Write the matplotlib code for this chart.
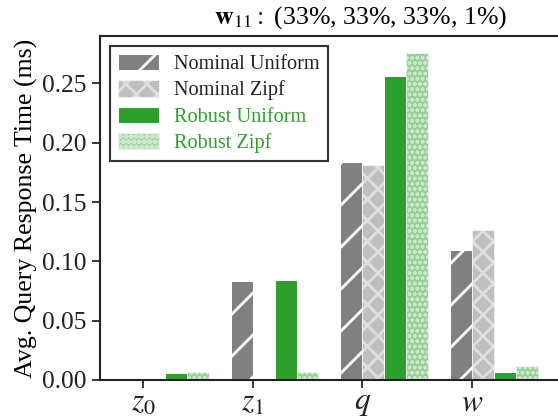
"""
plot.py — tiempo medio de respuesta por consulta, nominal vs. robusto (w11).
"""

import numpy as np
import matplotlib
matplotlib.use("Agg")
import matplotlib.pyplot as plt

# ── Datos ────────────────────────────────────────────────────────────────────
categorias = [r"$z_0$", r"$z_1$", r"$q$", r"$w$"]
nominal_uniform = [0.0005, 0.0838, 0.1838, 0.1094]
nominal_zipf = [0.0004, 0.0004, 0.1816, 0.1263]
robust_uniform = [0.0056, 0.0840, 0.2567, 0.0070]
robust_zipf = [0.0065, 0.0065, 0.2758, 0.0118]
titulo = r"$\mathbf{w}_{11}:$ (33%, 33%, 33%, 1%)"

# ── Estilo ───────────────────────────────────────────────────────────────────
DPI = 252
plt.rcParams["font.family"] = ["Liberation Serif", "DejaVu Serif"]
plt.rcParams["mathtext.fontset"] = "stix"
plt.rcParams["hatch.linewidth"] = 0.8

GRIS = "#808080"
VERDE = "#2ca02c"

fig = plt.figure(figsize=(558 / DPI, 418 / DPI), dpi=DPI)
ax = fig.add_axes([100 / 558, 38 / 418, 462 / 558, 344 / 418])

x = np.arange(len(categorias))
w = 0.2

# (valores, etiqueta, estilo, grosor del hatch)
series = [
    (nominal_uniform, "Nominal Uniform", dict(color=GRIS, hatch="//"), 0.8),
    (nominal_zipf, "Nominal Zipf", dict(color=GRIS, alpha=0.5, hatch="xxxx"), 0.8),
    (robust_uniform, "Robust Uniform", dict(color=VERDE), 0.8),
    (robust_zipf, "Robust Zipf", dict(color=VERDE, alpha=0.5, hatch="o" * 8), 0.45),
]
offsets = [-0.1, 0.1, 0.3, 0.5]

for (vals, label, kw, hlw), off in zip(series, offsets):
    with plt.rc_context({"hatch.linewidth": hlw}):
        ax.bar(x + off, vals, w, label=label, edgecolor="white", linewidth=0.3, **kw)

ax.set_xlim(-0.392, 3.82)
ax.set_ylim(0, 0.29)
ax.set_xticks(x)
ax.set_xticklabels(categorias, fontsize=9.0)
ax.set_yticks(np.arange(0, 0.26, 0.05))
ax.set_yticklabels([f"{v:.2f}" for v in np.arange(0, 0.26, 0.05)], fontsize=7.3)
ax.set_ylabel("Avg. Query Response Time (ms)", fontsize=7.4, labelpad=1.2)
ax.tick_params(length=2.3, width=0.5, pad=1.5, colors="#222222")
ax.tick_params(axis="x", pad=0.2)

for s in ax.spines.values():
    s.set_linewidth(0.6)
    s.set_color("#222222")

leg = ax.legend(loc="upper left", bbox_to_anchor=(110 / 558, 1 - 46 / 418),
                bbox_transform=fig.transFigure, borderaxespad=0,
                fontsize=5.8, fancybox=False, frameon=True,
                handlelength=2.0, handleheight=0.85, labelspacing=0.3,
                handletextpad=0.75, borderpad=0.4)
leg.get_frame().set_edgecolor("black")
leg.get_frame().set_linewidth(0.6)
for t, c in zip(leg.get_texts(), ["#222222", "#222222", VERDE, VERDE]):
    t.set_color(c)

fig.text(361 / 558, 1 - 18 / 418, titulo, ha="center", va="center", fontsize=7.4)

fig.savefig("out.png", dpi=DPI)
